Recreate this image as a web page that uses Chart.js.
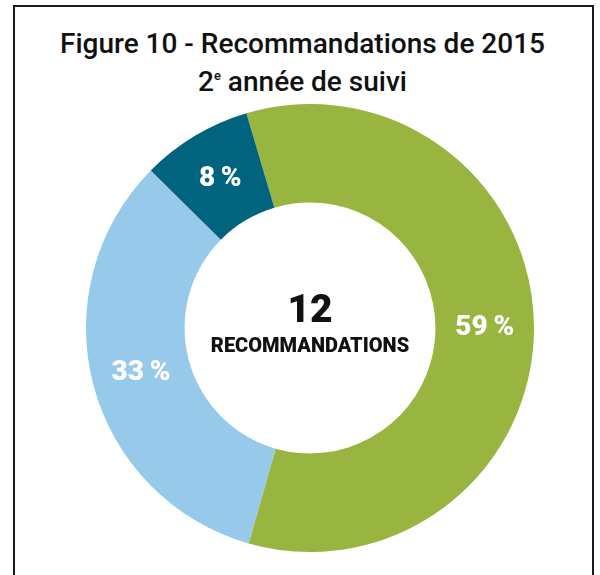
<!DOCTYPE html>
<html lang="fr">
<head>
<meta charset="utf-8">
<script src="https://cdn.jsdelivr.net/npm/chart.js@4"></script>
<style>
  html, body { margin: 0; padding: 0; background: #fff; overflow: hidden; }
  body { width: 600px; height: 575px; position: relative; font-family: Roboto, sans-serif; }
  .frame {
    position: absolute; left: 13px; top: 5px; width: 581px; height: 620px;
    border: 2px solid #1c1c1c; box-sizing: border-box;
  }
  .title {
    position: absolute; left: 0; top: 25px; width: 605px;
    text-align: center; font-size: 28px; font-weight: 500; line-height: 38px; color: #111;
  }
  .title sup { font-size: 13px; vertical-align: 11px; line-height: 0; }
  #chartBox { position: absolute; left: 80px; top: 98px; width: 460px; height: 460px; }
</style>
</head>
<body>
<div class="frame"></div>
<div class="title">Figure 10 - Recommandations de 2015<br>2<sup>e</sup> année de suivi</div>
<div id="chartBox"><canvas id="donut"></canvas></div>
<script>
  const labels = ['Réalisées', 'Partiellement', 'Non réalisées'];
  const values = [59, 33, 8];
  const colors = ['#97b53f', '#97c9eb', '#02637e'];
  const total = '12';
  const totalLabel = 'RECOMMANDATIONS';

  const sliceLabels = {
    id: 'sliceLabels',
    afterDatasetsDraw(chart) {
      const ctx = chart.ctx;
      const meta = chart.getDatasetMeta(0);
      ctx.save();
      ctx.fillStyle = '#fff';
      ctx.font = '900 28px Roboto';
      ctx.textAlign = 'center';
      ctx.textBaseline = 'middle';
      meta.data.forEach((arc, i) => {
        const p = arc.getCenterPoint();
        ctx.fillText(values[i] + '\u2009%', p.x, p.y + 1);
      });
      // centre
      const c = meta.data[0];
      ctx.fillStyle = '#111';
      ctx.font = '900 39px Roboto';
      ctx.textBaseline = 'alphabetic';
      ctx.fillText(total, c.x, c.y - 6);
      ctx.font = '900 20px Roboto';
      ctx.fillText(totalLabel, c.x, c.y + 24);
      ctx.restore();
    }
  };

  new Chart(document.getElementById('donut'), {
    type: 'doughnut',
    data: {
      labels,
      datasets: [{ data: values, backgroundColor: colors, borderWidth: 0 }],
    },
    options: {
      responsive: true,
      maintainAspectRatio: false,
      animation: false,
      rotation: -16.5,
      cutout: '56%',
      layout: { padding: 6 },
      plugins: { legend: { display: false }, tooltip: { enabled: false } },
    },
    plugins: [sliceLabels],
  });
</script>
</body>
</html>
